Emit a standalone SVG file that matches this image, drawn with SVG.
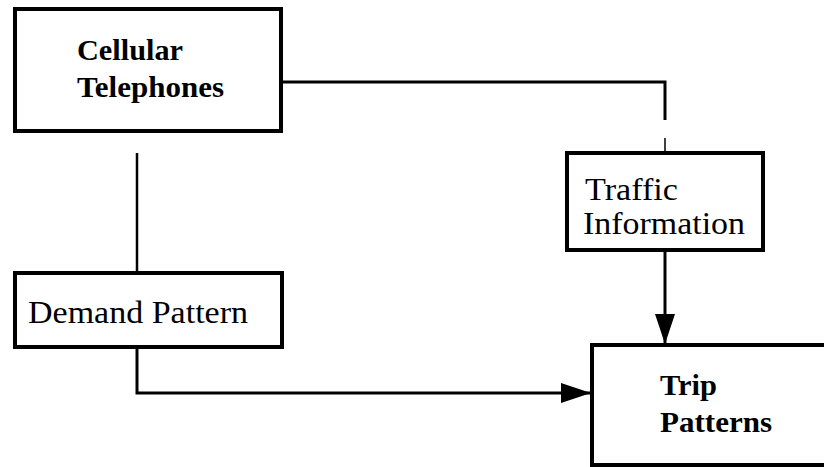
<svg xmlns="http://www.w3.org/2000/svg" width="824" height="467" viewBox="0 0 824 467">
  <style>
    .box { fill: #ffffff; stroke: #000000; stroke-width: 4; }
    .bold { font-family: "Liberation Serif", "Times New Roman", serif; font-weight: bold; font-size: 29px; fill: #000; }
    .reg { font-family: "Liberation Serif", "Times New Roman", serif; font-size: 31px; fill: #000; }
    .conn { fill: none; stroke: #000000; stroke-width: 3; }
  </style>
  <defs>
    <marker id="arrow" viewBox="0 0 30 20" refX="30" refY="10" markerWidth="30" markerHeight="20" markerUnits="userSpaceOnUse" orient="auto">
      <path d="M0,0 L30,10 L0,20 z" fill="#000000"/>
    </marker>
  </defs>
  <rect width="824" height="467" fill="#ffffff"/>

  <g id="connectors">
    <path class="conn" d="M283,82 H665 V120"/>
    <path class="conn" d="M665,138 V153" style="stroke-width:1.5"/>
    <path class="conn" d="M665,250 V344" marker-end="url(#arrow)"/>
    <path class="conn" d="M137,153 V273" style="stroke-width:2.5"/>
    <path class="conn" d="M137,348 V393 H591" marker-end="url(#arrow)"/>
  </g>

  <g id="cellular-telephones">
    <rect class="box" x="15" y="9" width="266" height="122"/>
    <text class="bold" x="77" y="60" textLength="106" lengthAdjust="spacingAndGlyphs">Cellular</text>
    <text class="bold" x="77" y="97" textLength="147" lengthAdjust="spacingAndGlyphs">Telephones</text>
  </g>

  <g id="traffic-information">
    <rect class="box" x="567" y="153" width="196" height="97"/>
    <text class="reg" x="585" y="200" textLength="93" lengthAdjust="spacingAndGlyphs">Traffic</text>
    <text class="reg" x="583" y="234" textLength="162" lengthAdjust="spacingAndGlyphs">Information</text>
  </g>

  <g id="demand-pattern">
    <rect class="box" x="15" y="273" width="267" height="74"/>
    <text class="reg" x="28" y="323" textLength="220" lengthAdjust="spacingAndGlyphs">Demand Pattern</text>
  </g>

  <g id="trip-patterns">
    <rect class="box" x="592" y="345" width="240" height="120"/>
    <text class="bold" x="660" y="395" textLength="57" lengthAdjust="spacingAndGlyphs">Trip</text>
    <text class="bold" x="660" y="432" textLength="112" lengthAdjust="spacingAndGlyphs">Patterns</text>
  </g>
</svg>
